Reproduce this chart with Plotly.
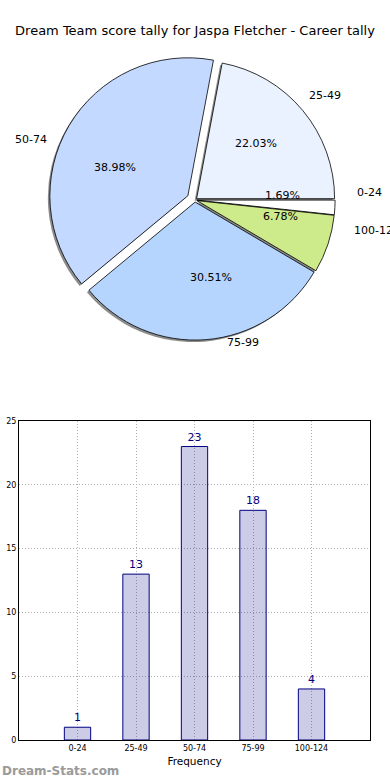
import math
import plotly.graph_objects as go

title = "Dream Team score tally for Jaspa Fletcher - Career tally"
categories = ["0-24", "25-49", "50-74", "75-99", "100-124"]
counts = [1, 13, 23, 18, 4]
pie_colors = ["#FFFFFF", "#EAF1FF", "#C4D9FF", "#B5D5FF", "#CDEB8B"]
pulls = [0.015, 0.015, 0.06, 0.015, 0.015]
y_ticks = [0, 5, 10, 15, 20, 25]

W, H = 390, 780
FONT = "DejaVu Sans"

# pie geometry (pixels)
cx, cy = 195, 200
max_pull = max(pulls)
r_box = 146.3
r = r_box / (1 + max_pull)
# text placement radii (reference pie is slightly wider than tall)
rx, ry = r * 1.058, r * 0.957

fig = go.Figure()

dom_x = [0.1, 0.9]
dom_y = [(H - cy - r_box) / H, (H - cy + r_box) / H]

# shadow
fig.add_trace(go.Pie(
    labels=categories, values=counts, sort=False, direction="counterclockwise",
    rotation=90, pull=pulls, textinfo="none", hoverinfo="skip",
    marker=dict(colors=["rgba(0,0,0,0.45)"] * len(counts), line=dict(width=0)),
    domain=dict(x=[dom_x[0] - 2 / W, dom_x[1] - 2 / W], y=[dom_y[0] - 2 / H, dom_y[1] - 2 / H]),
    showlegend=False,
))
fig.add_trace(go.Pie(
    labels=categories, values=counts, sort=False, direction="counterclockwise",
    rotation=90, pull=pulls, textinfo="none",
    marker=dict(colors=pie_colors, line=dict(color="black", width=0.8)),
    domain=dict(x=dom_x, y=dom_y),
    showlegend=False,
))

annotations = []
total = sum(counts)
cum = 0
for cat, v in zip(categories, counts):
    mid = (cum + v / 2) / total * 2 * math.pi
    cum += v
    c, s = math.cos(mid), math.sin(mid)
    # outside label
    lx, ly = cx + 1.1 * rx * c, cy - 1.1 * ry * s
    annotations.append(dict(
        x=lx / W, y=1 - ly / H, xref="paper", yref="paper", text=cat, showarrow=False,
        xanchor="left" if c > 0 else "right", yanchor="middle",
        font=dict(family=FONT, size=11, color="black"),
    ))
    # percent label
    px, py = cx + 0.6 * rx * c, cy - 0.6 * ry * s
    annotations.append(dict(
        x=px / W, y=1 - py / H, xref="paper", yref="paper",
        text=f"{v / total * 100:.2f}%", showarrow=False,
        xanchor="center", yanchor="middle",
        font=dict(family=FONT, size=11, color="black"),
    ))

annotations.append(dict(
    x=0, y=1 - 771 / H, xref="paper", yref="paper", text="<b>Dream-Stats.com</b>",
    showarrow=False, xanchor="left", yanchor="middle",
    font=dict(family=FONT, size=12, color="#9A9A9A"),
))

# bar chart
fig.add_trace(go.Bar(
    x=categories, y=counts, width=0.45,
    marker=dict(color="rgba(0,0,128,0.2)", line=dict(color="#000080", width=1)),
    text=[str(v) for v in counts], textposition="outside", cliponaxis=False,
    textfont=dict(family=FONT, size=11, color="#000080"),
    showlegend=False,
))

fig.update_layout(
    width=W, height=H,
    margin=dict(l=0, r=0, t=0, b=0),
    paper_bgcolor="white", plot_bgcolor="white",
    title=dict(text=title, x=0.5, xanchor="center", y=1 - 30 / H, yanchor="middle",
               font=dict(family=FONT, size=13, color="black")),
    font=dict(family=FONT),
    annotations=annotations,
    xaxis=dict(
        domain=[19 / W, 370 / W], range=[-1, 5], type="category",
        showgrid=True, gridcolor="#B0B0B0", griddash="1px,2px", gridwidth=1,
        showline=True, linecolor="black", linewidth=1, mirror=True,
        ticks="", tickfont=dict(family=FONT, size=8, color="black"),
        title=dict(text="Frequency", font=dict(family=FONT, size=10.5, color="black"), standoff=6),
        zeroline=False, fixedrange=True, automargin=False,
    ),
    yaxis=dict(
        domain=[1 - 740 / H, 1 - 421 / H], range=[0, 25], tickvals=y_ticks,
        showgrid=True, gridcolor="#B0B0B0", griddash="1px,2px", gridwidth=1,
        showline=True, linecolor="black", linewidth=1, mirror=True,
        ticks="", tickfont=dict(family=FONT, size=8, color="black"),
        zeroline=False, fixedrange=True, automargin=False,
    ),
    bargap=0.55,
)

fig.write_html("out.html", config={"displayModeBar": False},
               post_script="document.body.style.margin='0';document.body.style.overflow='hidden';")
